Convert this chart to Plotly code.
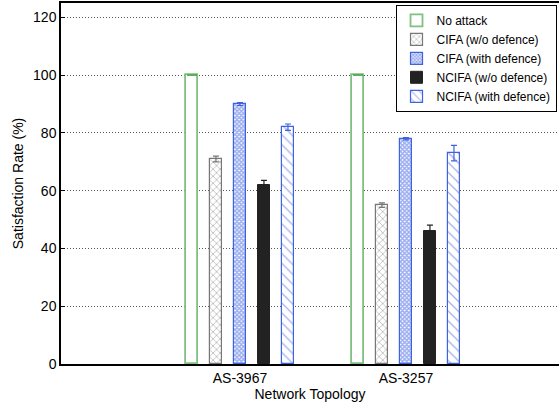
import plotly.graph_objects as go

groups = ["AS-3967", "AS-3257"]
series = ["No attack", "CIFA (w/o defence)", "CIFA (with defence)",
          "NCIFA (w/o defence)", "NCIFA (with defence)"]
values = {
    "No attack": [100, 100],
    "CIFA (w/o defence)": [71, 55],
    "CIFA (with defence)": [90, 78],
    "NCIFA (w/o defence)": [62, 46],
    "NCIFA (with defence)": [82, 73],
}
errors = {
    "No attack": [0, 0],
    "CIFA (w/o defence)": [1.0, 0.8],
    "CIFA (with defence)": [0.5, 0.4],
    "NCIFA (w/o defence)": [1.6, 2.1],
    "NCIFA (with defence)": [1.1, 2.7],
}
y_ticks = [0, 20, 40, 60, 80, 100, 120]

styles = {
    "No attack": dict(fill="white", line="#80c080", lw=1.8, pattern=None, ecol="#2a9a2a", ew=5),
    "CIFA (w/o defence)": dict(fill="white", line="#777777", lw=1.2,
                               pattern=dict(shape="x", fgcolor="#777777", bgcolor="white", size=5, solidity=0.3),
                               ecol="#777777", ew=3),
    "CIFA (with defence)": dict(fill="white", line="#3f62e0", lw=1.2,
                                pattern=dict(shape="x", fgcolor="#3a5ee0", bgcolor="white", size=3, solidity=0.75),
                                ecol="#3f62e0", ew=3),
    "NCIFA (w/o defence)": dict(fill="#222222", line="#222222", lw=1, pattern=None, ecol="#222222", ew=3),
    "NCIFA (with defence)": dict(fill="white", line="#3f62e0", lw=1.2,
                                 pattern=dict(shape="\\", fgcolor="#3f62e0", bgcolor="white", size=7, solidity=0.18),
                                 ecol="#3f62e0", ew=3),
}

step = 0.1446
bar_w = 0.075
fig = go.Figure()
for i, s in enumerate(series):
    st = styles[s]
    xs = [g + (i - 2) * step for g in range(len(groups))]
    marker = dict(color=st["fill"], line=dict(color=st["line"], width=st["lw"]))
    if st["pattern"]:
        marker["pattern"] = st["pattern"]
    fig.add_trace(go.Bar(
        x=xs, y=values[s], name=s, width=bar_w, marker=marker,
        error_y=dict(type="data", array=errors[s], color=st["ecol"], thickness=1.2, width=st["ew"]),
    ))

fig.update_layout(
    width=559, height=407,
    margin=dict(l=61, r=0, t=3, b=43),
    paper_bgcolor="white", plot_bgcolor="white",
    font=dict(family="Liberation Sans, Arial, sans-serif", size=14, color="black"),
    showlegend=True,
    legend=dict(x=0.995, xanchor="right", y=0.995, yanchor="top",
                bordercolor="black", borderwidth=1, bgcolor="white",
                font=dict(size=12), tracegroupgap=0, itemwidth=30),
    bargap=0,
)
fig.update_xaxes(
    range=[-1.078, 1.922], tickvals=list(range(len(groups))), ticktext=groups,
    showgrid=False, showline=True, linecolor="black", linewidth=1.5, mirror=True,
    ticks="", zeroline=False,
    title=dict(text="Network Topology", standoff=0, font=dict(size=14)),
)
fig.update_yaxes(
    range=[0, 125], tickvals=y_ticks, showgrid=True, gridcolor="#555555",
    griddash="1px,2px", gridwidth=1, showline=True, linecolor="black", linewidth=1.5,
    ticks="inside", ticklen=4, tickcolor="black", zeroline=False,
    title=dict(text="Satisfaction Rate (%)", standoff=6, font=dict(size=14)),
)
fig.write_html("out.html")
